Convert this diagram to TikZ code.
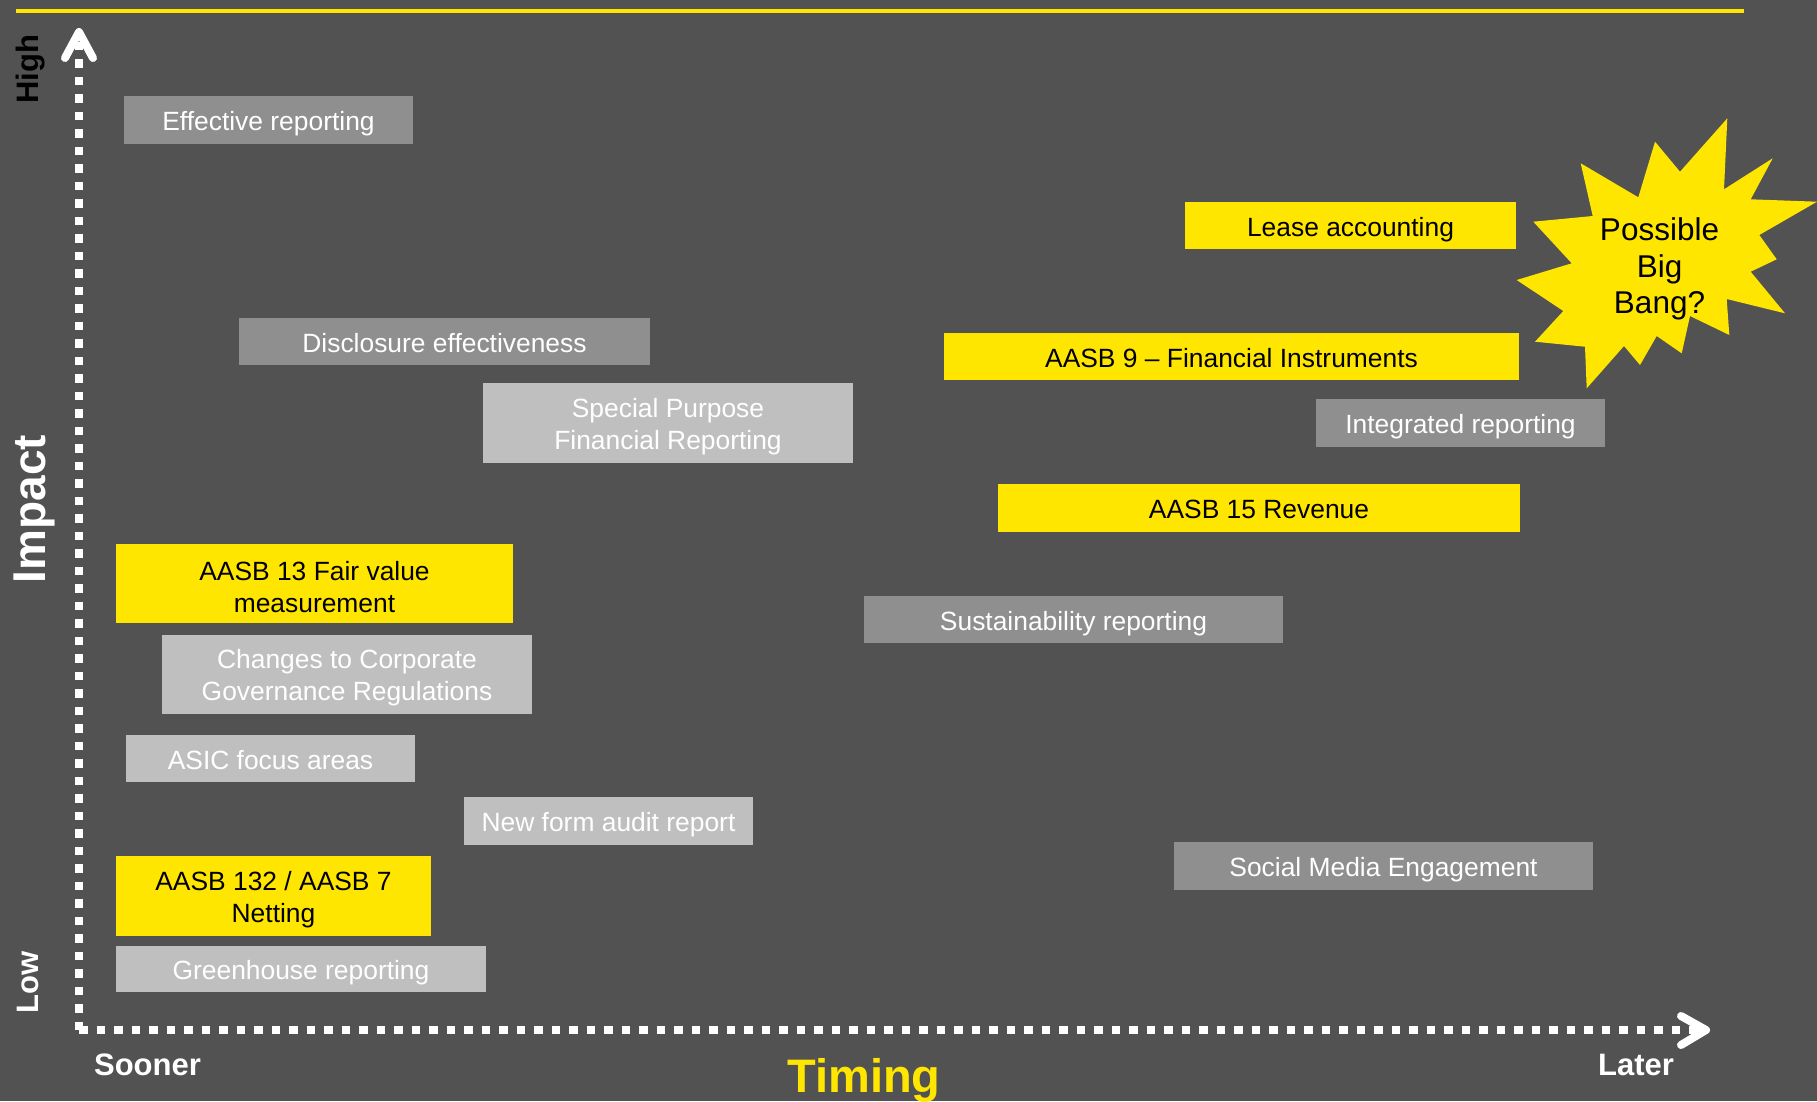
\documentclass[tikz,border=0pt]{standalone}
\usepackage{fontspec}
\setmainfont{Liberation Sans}
\definecolor{bg}{HTML}{525252}
\definecolor{eyY}{HTML}{FFE600}
\definecolor{dgray}{HTML}{8F8F8F}
\definecolor{lgray}{HTML}{BFBFBF}
\begin{document}
\begin{tikzpicture}[x=1pt,y=-1pt,
  bx/.style={rectangle, inner sep=0pt, font=\fontsize{26.4}{32}\selectfont},
  sbox/.style={bx, text height=21.5pt, text depth=0pt},
  mbox/.style={bx},
  mtext/.style={bx, align=center, yshift=-3.5pt},
  dark/.style={fill=dgray, text=white},
  light/.style={fill=lgray, text=white},
  yel/.style={fill=eyY, text=black},
  axisline/.style={draw=white, line width=8.5pt, dash pattern=on 8.5pt off 9pt},
  chevron/.style={draw=white, line width=8pt, line cap=round, line join=round},
  axlabel/.style={font=\bfseries\fontsize{31}{36}\selectfont, inner sep=0pt},
  biglabel/.style={font=\bfseries\fontsize{46}{52}\selectfont, inner sep=0pt}
]
% background
\fill[bg] (0,0) rectangle (1817,1101);
\useasboundingbox (0,0) rectangle (1817,1101);
% top yellow rule
\fill[eyY] (16,9) rectangle (1744,13);

% axes
\coordinate (origin) at (79,1030);
\coordinate (ytop) at (79,40);
\coordinate (xend) at (1702,1030);
\draw[axisline] (origin) -- (ytop);
\draw[axisline] (origin) -- (xend);
\coordinate (ya) at (65,58);
\coordinate (yt) at (79,32);
\coordinate (yb) at (93,58);
\draw[chevron] (ya) -- (yt) -- (yb);
\coordinate (xa) at (1681,1016);
\coordinate (xt) at (1706,1030);
\coordinate (xb) at (1681,1045);
\draw[chevron] (xa) -- (xt) -- (xb);

% axis labels
\node[axlabel, text=black, rotate=90, anchor=base] (high) at (38,69) {High};
\node[axlabel, text=white, rotate=90, anchor=base] (low) at (38,982) {Low};
\node[biglabel, text=white, rotate=90, anchor=base] (impact) at (45,509) {Impact};
\node[axlabel, text=white, anchor=base] (sooner) at (147.5,1075) {Sooner};
\node[axlabel, text=white, anchor=base] (later) at (1636,1075) {Later};
\node[font=\bfseries\fontsize{47}{52}\selectfont, inner sep=0pt, text=eyY, anchor=base] (timing) at (864,1092) {Timing};

% single-line boxes
\node[sbox, dark, minimum width=289pt, minimum height=48pt] (eff) at (268.5,120) {Effective reporting};
\node[sbox, yel, minimum width=331pt, minimum height=47pt] (lease) at (1350.5,225.5) {Lease accounting};
\node[sbox, dark, minimum width=411pt, minimum height=47pt] (disc) at (444.5,341.5) {Disclosure effectiveness};
\node[sbox, yel, minimum width=575pt, minimum height=47pt] (aasbnine) at (1231.5,356.5) {AASB 9 – Financial Instruments};
\node[sbox, dark, minimum width=289pt, minimum height=48pt] (integ) at (1460.5,423) {Integrated reporting};
\node[sbox, yel, minimum width=522pt, minimum height=48pt] (aasbfifteen) at (1259,508) {AASB 15 Revenue};
\node[sbox, dark, minimum width=419pt, minimum height=47pt] (sust) at (1073.5,619.5) {Sustainability reporting};
\node[sbox, light, minimum width=289pt, minimum height=47pt] (asic) at (270.5,758.5) {ASIC focus areas};
\node[sbox, light, minimum width=289pt, minimum height=48pt] (audit) at (608.5,821) {New form audit report};
\node[sbox, dark, minimum width=419pt, minimum height=48pt] (social) at (1383.5,866) {Social Media Engagement};
\node[sbox, light, minimum width=370pt, minimum height=46pt] (green) at (301,969) {Greenhouse reporting};

% two-line boxes
\node[mbox, light, minimum width=370pt, minimum height=80pt] (spfr) at (668,423) {};
\node[mtext, text=white] (spfrt) at (spfr.center) {Special Purpose\\Financial Reporting};
\node[mbox, yel, minimum width=397pt, minimum height=79pt] (aasbthirteen) at (314.5,583.5) {};
\node[mtext, text=black] (aasbthirteent) at (aasbthirteen.center) {AASB 13 Fair value\\measurement};
\node[mbox, light, minimum width=370pt, minimum height=79pt] (cgr) at (347,674.5) {};
\node[mtext, text=white] (cgrt) at (cgr.center) {Changes to Corporate\\Governance Regulations};
\node[mbox, yel, minimum width=315pt, minimum height=80pt] (aasbonethirtytwo) at (273.5,896) {};
\node[mtext, text=black] (aasbonethirtytwot) at (aasbonethirtytwo.center) {AASB 132 / AASB 7\\Netting};

% starburst
\fill[eyY] (1727.3,118.3) -- (1724,189.3) -- (1772.7,158.3) -- (1750.7,199.3)
  -- (1817,201.7) -- (1759.3,235) -- (1776.7,259.3) -- (1750.7,271.7)
  -- (1785,313.3) -- (1726.7,299) -- (1729.3,335) -- (1690,316)
  -- (1681.7,353.3) -- (1656.7,336) -- (1640,365) -- (1624,346)
  -- (1586.7,388.3) -- (1585,346.7) -- (1535,341.7) -- (1563.3,311)
  -- (1516.7,280) -- (1571.7,263.3) -- (1533.3,221.7) -- (1592.7,216)
  -- (1580.7,163.3) -- (1638.3,197.3) -- (1655,141.7) -- (1680,171.7) -- cycle;
\node[inner sep=0pt, align=center, text=black, font=\fontsize{31.5}{36.5}\selectfont] (bang) at (1659.5,269) {Possible\\Big\\Bang?};
\end{tikzpicture}
\end{document}
